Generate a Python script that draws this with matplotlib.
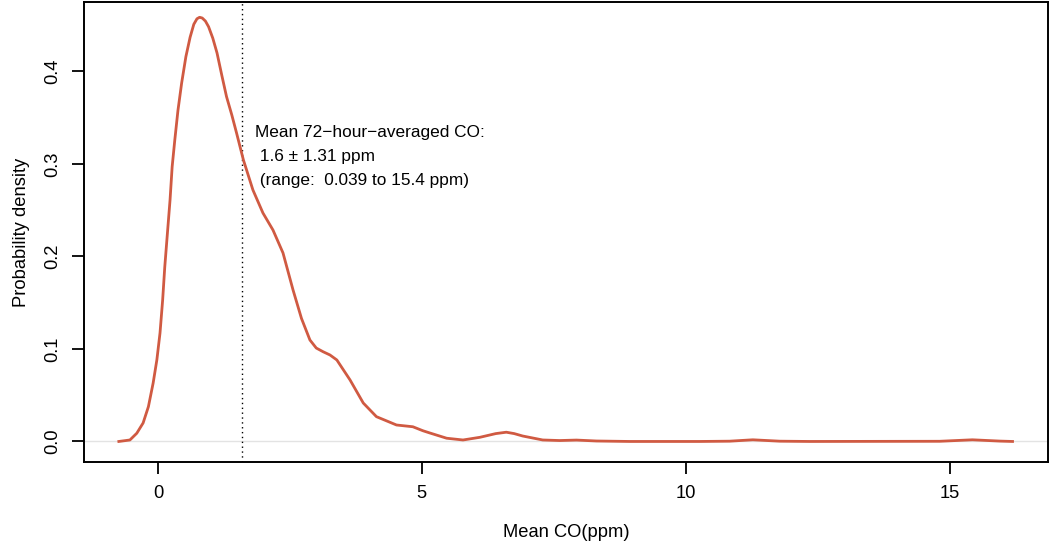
import matplotlib
matplotlib.use("Agg")
import matplotlib.pyplot as plt

# density curve of mean 72-hour CO
co_ppm = [-0.74, -0.53, -0.40, -0.28, -0.18, -0.09, -0.02, 0.04, 0.09, 0.13,
          0.18, 0.23, 0.27, 0.32, 0.38, 0.45, 0.53, 0.61, 0.68, 0.74,
          0.79, 0.84, 0.90, 0.96, 1.04, 1.12, 1.21, 1.30, 1.40, 1.49,
          1.62, 1.80, 1.99, 2.18, 2.37, 2.56, 2.72, 2.88, 3.00, 3.13,
          3.26, 3.39, 3.64, 3.89, 4.14, 4.52, 4.83, 5.02, 5.15, 5.47,
          5.78, 6.10, 6.40, 6.60, 6.75, 6.91, 7.29, 7.61, 7.93, 8.31,
          8.94, 10.26, 10.83, 11.27, 11.78, 12.35, 14.81, 15.43, 15.95, 16.19]
density = [0.0, 0.0016, 0.0089, 0.0200, 0.0376, 0.0632, 0.0881, 0.1173, 0.1530, 0.1886,
           0.2250, 0.2611, 0.2970, 0.3259, 0.3580, 0.3876, 0.4160, 0.4370, 0.4510, 0.4570,
           0.4586, 0.4578, 0.4545, 0.4484, 0.4360, 0.4200, 0.3960, 0.3728, 0.3530, 0.3335,
           0.3043, 0.2719, 0.2470, 0.2286, 0.2038, 0.1638, 0.1330, 0.1097, 0.1010, 0.0970,
           0.0935, 0.0881, 0.0665, 0.0416, 0.0268, 0.0178, 0.0159, 0.0116, 0.0092, 0.0035,
           0.0016, 0.0045, 0.0085, 0.0100, 0.0085, 0.0059, 0.0016, 0.0010, 0.0015, 0.0005,
           0.0, 0.0, 0.0003, 0.0018, 0.0003, 0.0, 0.0002, 0.0018, 0.0004, 0.0]

mean_co = 1.6
note_lines = ["Mean 72\u2212hour\u2212averaged CO:",
              " 1.6 \u00b1 1.31 ppm",
              " (range:  0.039 to 15.4 ppm)"]
x_ticks = [0, 5, 10, 15]
y_ticks = [0.0, 0.1, 0.2, 0.3, 0.4]

plt.rcParams["font.family"] = ["Liberation Sans", "DejaVu Sans"]

fig = plt.figure(figsize=(10.5, 5.47), dpi=100)
ax = fig.add_axes([0.080, 0.1554, 0.918, 0.8409])

ax.axhline(0, color="#e3e3e3", lw=1, zorder=1)
ax.plot(co_ppm, density, color="#d05a42", lw=2.0, solid_joinstyle="round", zorder=3)
ax.axvline(mean_co, color="black", lw=1, ls=(0, (1, 2.5)), zorder=2)

text_y = [0.334, 0.3076, 0.2816]
for line, yy in zip(note_lines, text_y):
    ax.text(1.84, yy, line, fontsize=12.4, ha="left", va="center")

ax.set_xlim(-1.40, 16.86)
ax.set_ylim(-0.0222, 0.4751)
ax.set_xticks(x_ticks)
ax.set_xticklabels([str(t) for t in x_ticks])
ax.set_yticks(y_ticks)
ax.set_yticklabels(["%.1f" % t for t in y_ticks], rotation=90, va="center")

for s in ax.spines.values():
    s.set_linewidth(1.4)
ax.tick_params(direction="out", length=8.5, width=1.3, labelsize=13.2, pad=8)

ax.set_xlabel("Mean CO(ppm)", fontsize=13.2, labelpad=16)
ax.set_ylabel("Probability density", fontsize=13.2, labelpad=10)

fig.savefig("out.png", dpi=100)
